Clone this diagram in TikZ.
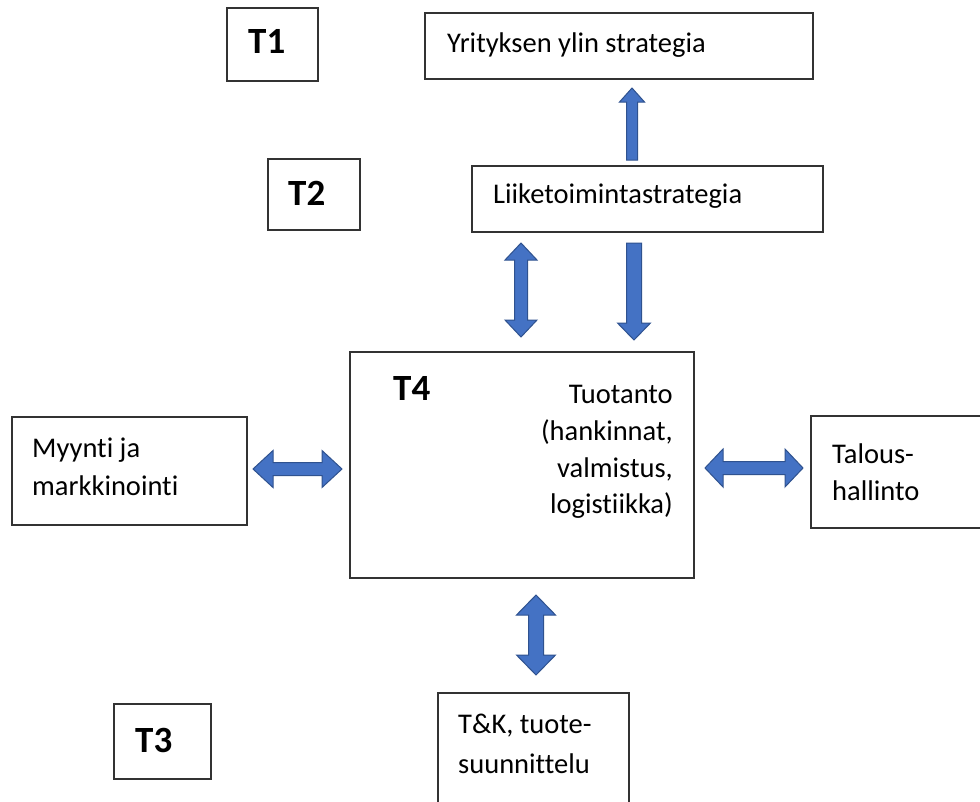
\documentclass[tikz,border=0pt]{standalone}
\usepackage{fontspec}
\setmainfont{Carlito}[Ligatures=NoCommon]
\definecolor{arrfill}{HTML}{4472C4}
\definecolor{arrline}{HTML}{2F528F}
\tikzset{
  box/.style={draw=black!80, line width=1.5pt, rectangle, inner sep=0pt},
  txt/.style={inner sep=0pt, font=\fontsize{28.5}{34}\selectfont},
  big/.style={inner sep=0pt, font=\fontsize{37}{44}\selectfont\bfseries},
  blk/.style={fill=arrfill, draw=arrline, line width=1pt, line join=miter}
}
% x, ytop, ybottom, shaft half, head half, head length
\newcommand\ArrDV[6]{\draw[blk] (#1,#2) -- (#1+#5,#2+#6) -- (#1+#4,#2+#6) -- (#1+#4,#3-#6) -- (#1+#5,#3-#6) -- (#1,#3) -- (#1-#5,#3-#6) -- (#1-#4,#3-#6) -- (#1-#4,#2+#6) -- (#1-#5,#2+#6) -- cycle;}
% y, xleft, xright, shaft half, head half, head length
\newcommand\ArrDH[6]{\draw[blk] (#2,#1) -- (#2+#6,#1-#5) -- (#2+#6,#1-#4) -- (#3-#6,#1-#4) -- (#3-#6,#1-#5) -- (#3,#1) -- (#3-#6,#1+#5) -- (#3-#6,#1+#4) -- (#2+#6,#1+#4) -- (#2+#6,#1+#5) -- cycle;}
% x, ytip(top), ybottom
\newcommand\ArrUp[6]{\draw[blk] (#1,#2) -- (#1+#5,#2+#6) -- (#1+#4,#2+#6) -- (#1+#4,#3) -- (#1-#4,#3) -- (#1-#4,#2+#6) -- (#1-#5,#2+#6) -- cycle;}
% x, ytop, ytip(bottom)
\newcommand\ArrDown[6]{\draw[blk] (#1-#4,#2) -- (#1+#4,#2) -- (#1+#4,#3-#6) -- (#1+#5,#3-#6) -- (#1,#3) -- (#1-#5,#3-#6) -- (#1-#4,#3-#6) -- cycle;}
\begin{document}
\begin{tikzpicture}[x=1pt,y=-1pt]
\useasboundingbox[fill=white] (0,0) rectangle (980,801);
\clip (0,0) rectangle (980,801);

% boxes
\node[box, minimum width=91, minimum height=73] (t1) at (272.5,44.5) {};
\node[box, minimum width=388, minimum height=66] (yr) at (619,46) {};
\node[box, minimum width=92, minimum height=71] (t2) at (314,194.5) {};
\node[box, minimum width=351, minimum height=66] (lii) at (647.5,199) {};
\node[box, minimum width=344, minimum height=226] (t4) at (522,465) {};
\node[box, minimum width=235, minimum height=108] (my) at (129.5,471) {};
\node[box, minimum width=189, minimum height=112] (ta) at (905.5,472) {};
\node[box, minimum width=191, minimum height=137] (tk) at (533.5,761.5) {};
\node[box, minimum width=97, minimum height=75] (t3) at (162.5,741.5) {};

% texts
\node[big, anchor=base west] (t1l) at (248,53) {T1};
\node[txt, anchor=base west] (yrl) at (447,52) {Yrityksen ylin strategia};
\node[big, anchor=base west] (t2l) at (288,205) {T2};
\node[txt, anchor=base west] (liil) at (493,203) {Liiketoimintastrategia};
\node[big, anchor=base west] (t4l) at (393,400) {T4};
\node[txt, anchor=base east] (tu1) at (673,403) {Tuotanto};
\node[txt, anchor=base east] (tu2) at (673,440) {(hankinnat,};
\node[txt, anchor=base east] (tu3) at (673,477) {valmistus,};
\node[txt, anchor=base east] (tu4) at (673,513) {logistiikka)};
\node[txt, anchor=base west] (my1) at (32,457) {Myynti ja};
\node[txt, anchor=base west] (my2) at (32,495) {markkinointi};
\node[txt, anchor=base west] (ta1) at (832,463) {Talous-};
\node[txt, anchor=base west] (ta2) at (832,500) {hallinto};
\node[txt, anchor=base west] (tk1) at (458,733) {T\&K, tuote-};
\node[txt, anchor=base west] (tk2) at (458,773) {suunnittelu};
\node[big, anchor=base west] (t3l) at (135,752) {T3};

% block arrows
\ArrUp{632}{88}{160}{5.5}{12.5}{14}
\ArrDV{521}{243}{337}{6.5}{16}{17}
\ArrDown{634}{243}{340}{7.5}{16.5}{17}
\ArrDH{469}{253}{342}{6.5}{18.5}{20}
\ArrDH{468}{705}{803}{6.5}{19}{18}
\ArrDV{536}{595}{675}{7.5}{19.5}{20}
\end{tikzpicture}
\end{document}
